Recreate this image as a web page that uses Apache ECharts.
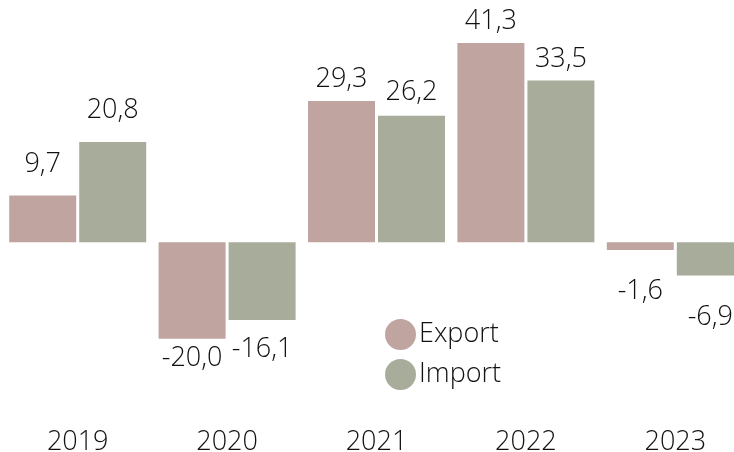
<!DOCTYPE html>
<html>
<head>
<meta charset="utf-8">
<script src="https://cdn.jsdelivr.net/npm/echarts@6/dist/echarts.min.js"></script>
<style>
  html, body { margin: 0; padding: 0; background: #fff; }
  #chart { width: 734px; height: 452px; }
</style>
</head>
<body>
<div id="chart"></div>
<script>
// years and yearly change (%)
const years = ['2019', '2020', '2021', '2022', '2023'];
const exportValues = [9.7, -20.0, 29.3, 41.3, -1.6];
const importValues = [20.8, -16.1, 26.2, 33.5, -6.9];

const exportColor = '#c0a4a0';
const importColor = '#a8ac9a';
const textColor = '#111';
const fontFamily = '"Open Sans", "Segoe UI", sans-serif';

// label spacing from bar end, as hand-placed in the original
const exportGap = [18, 6, 8, 8, 28];
const importGap = [18, 16, 10, 8, 28];

const fmt = v => v.toFixed(1).replace('.', ',');

function buildData(values, gaps) {
  return values.map((v, i) => ({
    value: v,
    label: { position: v >= 0 ? 'top' : 'bottom', distance: gaps[i] }
  }));
}

const chart = echarts.init(document.getElementById('chart'));
chart.setOption({
  animation: false,
  textStyle: { fontFamily: fontFamily },
  grid: { left: 3, width: 747, top: 1, height: 386, containLabel: false, outerBoundsMode: 'none' },
  legend: {
    orient: 'vertical',
    left: 380,
    top: 314,
    icon: 'circle',
    itemWidth: 31,
    itemHeight: 31,
    itemGap: 9,
    data: ['Export', 'Import'],
    textStyle: { color: textColor, fontSize: 27, fontWeight: 300, fontFamily: fontFamily, padding: [0, 0, 0, -2] }
  },
  xAxis: {
    type: 'category',
    data: years,
    axisLine: { show: false },
    axisTick: { show: false },
    axisLabel: { color: textColor, fontSize: 27, fontWeight: 300, margin: 42 }
  },
  yAxis: {
    type: 'value',
    min: -30,
    max: 50,
    show: false,
    splitLine: { show: false }
  },
  series: [
    {
      name: 'Export',
      type: 'bar',
      data: buildData(exportValues, exportGap),
      barWidth: 67,
      barGap: '4.5%',
      itemStyle: { color: exportColor },
      label: {
        show: true,
        color: textColor,
        fontSize: 27,
        fontWeight: 300,
        formatter: p => fmt(p.value)
      }
    },
    {
      name: 'Import',
      type: 'bar',
      data: buildData(importValues, importGap),
      barWidth: 67,
      itemStyle: { color: importColor },
      label: {
        show: true,
        color: textColor,
        fontSize: 27,
        fontWeight: 300,
        formatter: p => fmt(p.value)
      }
    }
  ]
});
</script>
</body>
</html>
